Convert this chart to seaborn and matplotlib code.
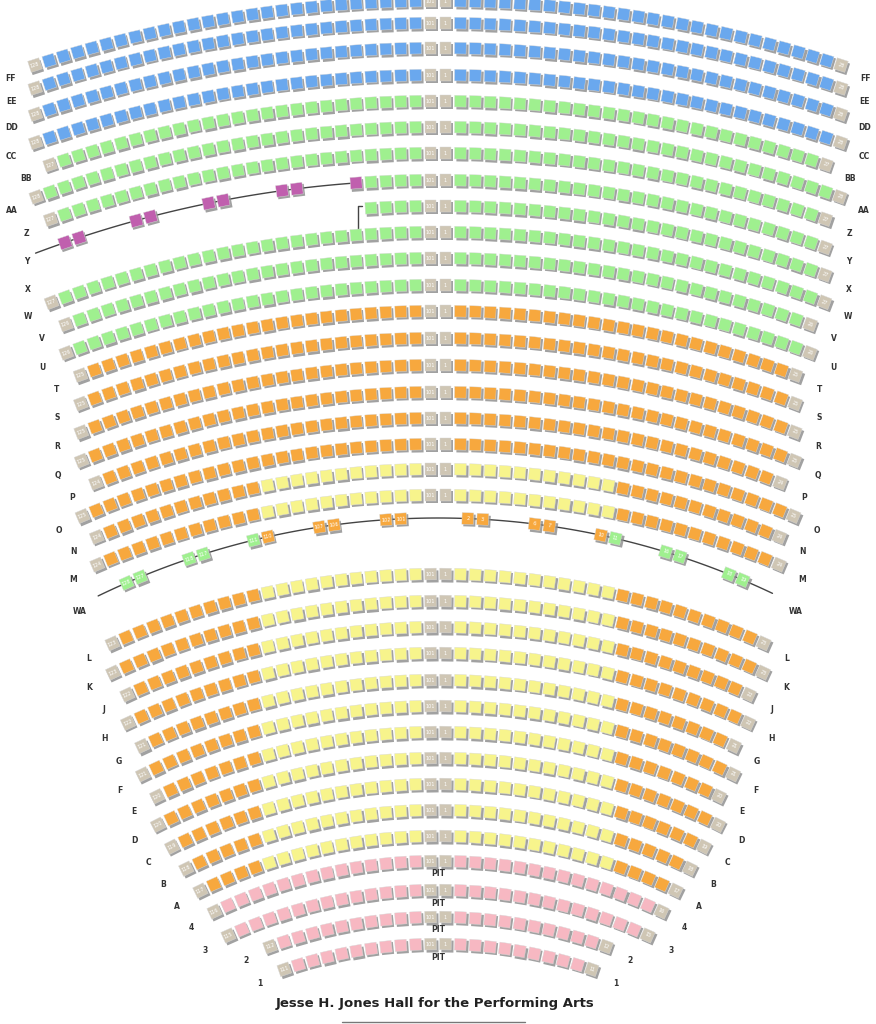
import matplotlib
matplotlib.use("Agg")
import matplotlib.pyplot as plt
import seaborn as sns
import pandas as pd
import numpy as np

sns.set_style("white")
plt.rcParams['font.family'] = ['DejaVu Sans']

# --- data ---
row_names = ['FF', 'EE', 'DD', 'CC', 'BB', 'AA', 'Z', 'Y', 'X', 'W', 'V', 'U',
             'T', 'S', 'R', 'Q', 'P', 'O', 'N', 'M',
             'L', 'K', 'J', 'H', 'G', 'F', 'E', 'D', 'C', 'B', 'A',
             '4', '3', '2', '1']
seats_per_side = [28, 28, 28, 28, 27, 28, 27, 27, 27, 27, 26, 26,
                  25, 25, 25, 25, 24, 25, 24, 24,
                  23, 23, 22, 22, 21, 21, 20, 20, 19, 18, 17,
                  16, 15, 12, 11]
section = (['balcony'] * 4 + ['upper'] * 8 + ['mezz'] * 8 + ['orch'] * 11 + ['pit'] * 4)
inner_yellow = ([0] * 18 + [12, 12] + [12] * 11 + [0] * 4)
left_only = {'Y': 5, 'X': 5}          # rows with a short left block
y_wheel_seats = [6, 10, 11, 15, 16, 20, 21, 25, 26]
wa_seats = [-21.5, -20.5, -17, -16, -12.5, -11.5, -8, -7, -3.5, -2.5,
            2, 3, 6.5, 7.5, 11, 12, 15.5, 16.5, 20, 21]
wa_section = ['upper'] * 5 + ['mezz'] * 10 + ['upper'] * 5
wa_numbers = ['128', '127', '118', '117', '111', '110', '107', '106', '102', '101',
              '2', '3', '6', '7', '10', '11', '16', '17', '18', '19']

colors = {'balcony': '#6aa8ee', 'upper': '#9ff08f', 'mezz': '#f7a83e', 'orch': '#f7a83e',
          'yellow': '#f7f48c', 'pit': '#f7b8c2', 'wheel': '#c05fae',
          'tag': '#cfc6b4'}

# --- layout ---
row_center_y = [1, 23, 48, 75, 101, 127, 153, 180, 206, 232, 258, 285,
                311, 338, 365, 392, 418, 444, 469, 495,
                574, 601, 627, 653, 680, 706, 732, 758, 784, 810, 836,
                861, 890, 917, 944]
CX = 438
STEP = 14.9


def radius(cy):
    return np.interp(cy, [0, 311, 574, 861, 944], [1300, 1030, 800, 520, 480])


def arc_xy(cy, R, d):
    th = d / R
    return CX + R * np.sin(th), cy + R * (1 - np.cos(th)), np.degrees(th)


seats = []
texts = []
for name, n, sec, ny, cy in zip(row_names, seats_per_side, section, inner_yellow, row_center_y):
    R = radius(cy)
    for side in (-1, 1):
        count = left_only.get(name, n) if side == -1 else n
        for k in range(1, count + 1):
            x, y, a = arc_xy(cy, R, side * (k - 0.5) * STEP)
            col = colors['yellow'] if k <= ny else colors[sec]
            label = None
            if k == 1 or (k == n and count == n):
                col = colors['tag']
                label = str(100 + k) if side == -1 else str(k)
            seats.append((x, y, a, col))
            if label:
                texts.append((x, y, a, label))
        # row labels
        x, y, a = arc_xy(cy, R, side * (n + 0.5) * STEP)
        texts.append((x + side * 10, y + 9, None, name))
    if sec == 'pit':
        texts.append((CX, cy + 13, None, 'PIT'))

fig = plt.figure(figsize=(8.76, 10.24), dpi=100)
ax = fig.add_axes([0, 0, 1, 1])
ax.set_xlim(0, 876)
ax.set_ylim(1024, 0)
ax.axis('off')

# Y row wheelchair line + seats
cyY = row_center_y[row_names.index('Y')]
RY = radius(cyY)
d = np.linspace(-5.5 * STEP, -27.6 * STEP, 60)
lx, ly, _ = arc_xy(cyY, RY, d)
ax.plot(lx, ly, color='#444', lw=1, zorder=1)
for k in y_wheel_seats:
    x, y, a = arc_xy(cyY, RY, -(k - 0.5) * STEP)
    seats.append((x, y, a, colors['wheel']))

# bracket at row X
cyX = row_center_y[row_names.index('X')]
xb, yb, _ = arc_xy(cyX, radius(cyX), -5.4 * STEP)
ax.plot([xb + 4, xb, xb], [yb - 3, yb - 3, yb + 25], color='#444', lw=1, zorder=1)

# WA line
cyWA, RWA = 518, 780
d = np.linspace(-23.6 * STEP, 23.2 * STEP, 120)
lx, ly, _ = arc_xy(cyWA, RWA, d)
ax.plot(lx, ly, color='#444', lw=1, zorder=1)
for p, sec, lab in zip(wa_seats, wa_section, wa_numbers):
    x, y, a = arc_xy(cyWA, RWA, p * STEP)
    seats.append((x, y, a, colors[sec]))
    texts.append((x, y, a, lab))
for side in (-1, 1):
    x, y, _ = arc_xy(cyWA, RWA, side * 24.5 * STEP)
    texts.append((x + side * 6, y + 10, None, 'WA'))

df = pd.DataFrame(seats, columns=['x', 'y', 'ang', 'color'])
df['bucket'] = df['ang'].round().astype(int)
pal = {c: c for c in df['color'].unique()}
for b, sub in df.groupby('bucket'):
    mk = (4, 0, 45 - b)
    ax.scatter(sub['x'] + 1.3, sub['y'] + 1.6, marker=mk, s=150, color='#8a8a8a',
               linewidths=0, zorder=2, alpha=0.8)
    sns.scatterplot(data=sub, x='x', y='y', hue='color', palette=pal, marker=mk,
                    s=140, linewidth=0.3, edgecolor='#d8d8d8', legend=False, ax=ax, zorder=3)

for x, y, a, t in texts:
    if a is None:
        ax.text(x, y, t, ha='center', va='center', fontsize=5.5, fontweight='bold',
                color='#333333', zorder=4)
    else:
        ax.text(x, y, t, ha='center', va='center', fontsize=3.6, color='white',
                rotation=-a, zorder=4)

ax.set_xlabel('')
ax.set_ylabel('')
ax.axis('off')
ax.text(435, 1003, 'Jesse H. Jones Hall for the Performing Arts', ha='center', va='center',
        fontsize=9.5, fontweight='bold', color='#222222')
ax.plot([342, 525], [1022, 1022], color='#777', lw=1)

fig.savefig('out.png', dpi=100)
